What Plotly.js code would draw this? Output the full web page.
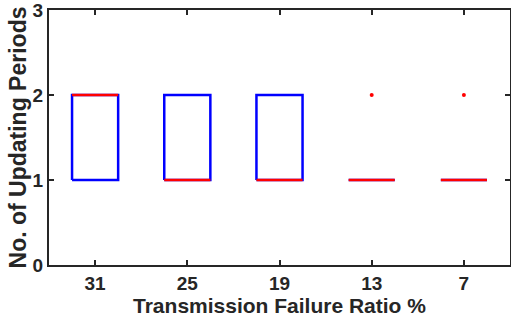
<!DOCTYPE html>
<html>
<head>
<meta charset="utf-8">
<script src="https://cdn.plot.ly/plotly-3.0.1.min.js"></script>
<style>html,body{margin:0;padding:0;background:#fff;}#chart{width:511px;height:322px;}</style>
</head>
<body>
<div id="chart"></div>
<script>
// Data
const categories = ['31', '25', '19', '13', '7'];
const q1Values = [1, 1, 1, 1, 1];
const q3Values = [2, 2, 2, 1, 1];
const medianValues = [2, 1, 1, 1, 1];
const outlierValues = [[], [], [], [2], [2]];
const yTicks = [0, 1, 2, 3];

const halfWidth = 0.25;
const boxX = [], boxY = [], medX = [], medY = [], outX = [], outY = [];
categories.forEach((c, i) => {
  const x = i + 1;
  const lo = q1Values[i], hi = q3Values[i];
  boxX.push(x - halfWidth, x + halfWidth, x + halfWidth, x - halfWidth, x - halfWidth, null);
  boxY.push(lo, lo, hi, hi, lo, null);
  medX.push(x - halfWidth, x + halfWidth, null);
  medY.push(medianValues[i], medianValues[i], null);
  outlierValues[i].forEach(v => { outX.push(x); outY.push(v); });
});

const traces = [
  {x: boxX, y: boxY, mode: 'lines', line: {color: '#0000ff', width: 2.5}, hoverinfo: 'skip', connectgaps: false},
  {x: medX, y: medY, mode: 'lines', line: {color: '#ff0000', width: 2.5}, hoverinfo: 'skip', connectgaps: false},
  {x: outX, y: outY, mode: 'markers', marker: {color: '#ff0000', size: 4, symbol: 'circle'}, hoverinfo: 'skip'}
];

const FONT = 'Liberation Sans, Arial, Helvetica, sans-serif';
const axisCommon = {
  showgrid: false, zeroline: false, showline: true, mirror: 'ticks',
  linecolor: '#262626', linewidth: 2, ticks: 'inside', ticklen: 5, tickwidth: 2, tickcolor: '#262626',
  ticklabeloverflow: 'allow',
  tickfont: {family: FONT, size: 19, color: '#262626', weight: 700}
};

const layout = {
  width: 511, height: 322,
  margin: {l: 49, r: 1, t: 10, b: 57},
  paper_bgcolor: '#ffffff', plot_bgcolor: '#ffffff',
  showlegend: false,
  xaxis: Object.assign({}, axisCommon, {
    range: [0.5, 5.5], tickmode: 'array', tickvals: categories.map((c, i) => i + 1), ticktext: categories,
    title: {text: 'Transmission Failure Ratio %', standoff: 4,
      font: {family: FONT, size: 21, color: '#262626', weight: 700}}
  }),
  yaxis: Object.assign({}, axisCommon, {
    range: [0, 3], tickmode: 'array', tickvals: yTicks, ticktext: yTicks.map(String),
    title: {text: 'No. of Updating Periods', standoff: 0,
      font: {family: FONT, size: 23, color: '#262626', weight: 700}}
  })
};

Plotly.newPlot('chart', traces, layout, {displayModeBar: false, staticPlot: true});
</script>
</body>
</html>
